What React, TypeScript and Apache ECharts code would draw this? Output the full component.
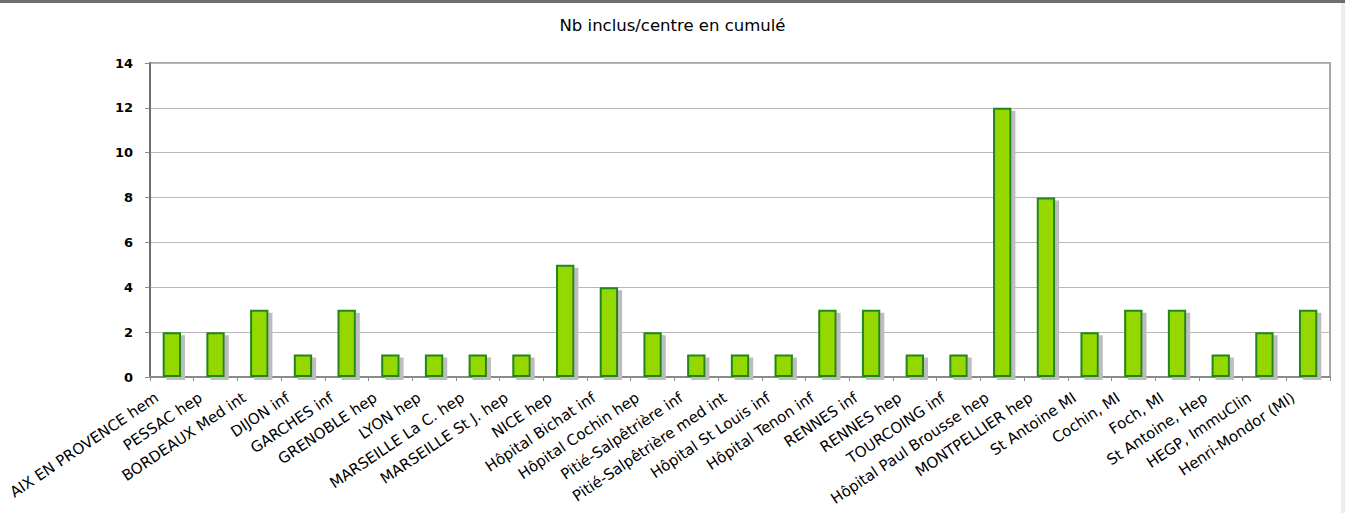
import React, { useEffect, useRef } from "react";
import * as echarts from "echarts";

const categories = [
  "AIX EN PROVENCE hem",
  "PESSAC hep",
  "BORDEAUX Med int",
  "DIJON inf",
  "GARCHES inf",
  "GRENOBLE hep",
  "LYON hep",
  "MARSEILLE La C. hep",
  "MARSEILLE St J. hep",
  "NICE hep",
  "Hôpital Bichat inf",
  "Hôpital Cochin hep",
  "Pitié-Salpêtrière inf",
  "Pitié-Salpêtrière med int",
  "Hôpital St Louis inf",
  "Hôpital Tenon inf",
  "RENNES inf",
  "RENNES hep",
  "TOURCOING inf",
  "Hôpital Paul Brousse hep",
  "MONTPELLIER hep",
  "St Antoine MI",
  "Cochin, MI",
  "Foch, MI",
  "St Antoine, Hep",
  "HEGP, ImmuClin",
  "Henri-Mondor (MI)",
];

const values = [2, 2, 3, 1, 3, 1, 1, 1, 1, 5, 4, 2, 1, 1, 1, 3, 3, 1, 1, 12, 8, 2, 3, 3, 1, 2, 3];

const yTicks = [0, 2, 4, 6, 8, 10, 12, 14];

const title = "Nb inclus/centre en cumulé";

export default function App() {
  const ref = useRef<HTMLDivElement>(null);
  useEffect(() => {
    if (!ref.current) return;
    const chart = echarts.init(ref.current, null, { renderer: "svg" });
    const font = "'DejaVu Sans', Verdana, sans-serif";
    chart.setOption({
      animation: false,
      backgroundColor: "#ffffff",
      title: {
        text: title,
        left: "center",
        top: 12,
        textStyle: { fontFamily: font, fontSize: 16.5, fontWeight: "normal", color: "#000" },
      },
      grid: {
        left: 150,
        right: 15,
        top: 63,
        bottom: 136,
        show: true,
        borderColor: "#a6a6a6",
        borderWidth: 2,
        backgroundColor: "#ffffff",
      },
      xAxis: {
        type: "category",
        data: categories,
        axisLine: { lineStyle: { color: "#8a8a8a", width: 2 } },
        axisTick: { show: true, alignWithLabel: false, length: 4, lineStyle: { color: "#8a8a8a" } },
        axisLabel: {
          interval: 0,
          rotate: 34,
          margin: 9,
          padding: [0, 18, 0, 0],
          fontFamily: font,
          fontSize: 15,
          color: "#000",
        },
      },
      yAxis: {
        type: "value",
        min: yTicks[0],
        max: yTicks[yTicks.length - 1],
        interval: 2,
        axisLine: { show: true, lineStyle: { color: "#6e6e6e", width: 2 } },
        axisTick: { show: true, length: 5, lineStyle: { color: "#8a8a8a" } },
        splitLine: { lineStyle: { color: "#b8b8b8", width: 1 } },
        axisLabel: {
          margin: 17,
          fontFamily: font,
          fontSize: 13,
          fontWeight: "bold",
          color: "#000",
        },
      },
      series: [
        {
          type: "bar",
          data: values,
          barWidth: "42%",
          itemStyle: {
            color: "#94d800",
            borderColor: "#23861c",
            borderWidth: 2,
            shadowColor: "#bdbdbd",
            shadowOffsetX: 4,
            shadowOffsetY: 3,
            shadowBlur: 0,
          },
        },
      ],
      graphic: [
        { type: "rect", left: 0, top: 0, shape: { width: 1345, height: 3 }, style: { fill: "#6e6e6e" } },
        { type: "rect", left: 1341, top: 3, shape: { width: 4, height: 510 }, style: { fill: "#ececec" } },
      ],
    });
    return () => chart.dispose();
  }, []);
  return (
    <div
      ref={ref}
      style={{ position: "fixed", left: 0, top: 0, width: 1345, height: 513 }}
    />
  );
}
